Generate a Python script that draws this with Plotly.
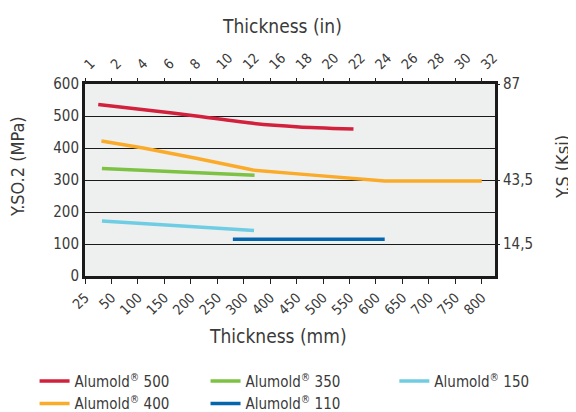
import plotly.graph_objects as go

# Tick labels (equally spaced category-like scale)
tick_mm = ['25', '50', '100', '150', '200', '250', '300', '400', '450', '500',
           '550', '600', '650', '700', '750', '800']
tick_in = ['1', '2', '4', '6', '8', '10', '12', '16', '18', '20', '22', '24',
           '26', '28', '30', '32']
ksi_vals = [14.5, 43.5, 87]
ksi_text = ['14,5', '43,5', '87']

# Series (x = position on the tick scale, y = MPa)
a500_x = [0.5, 2.4, 4.2, 6.35, 8.1, 10.15]
a500_y = [536, 518, 500, 477, 466, 459]
a400_x = [0.62, 2.2, 4.2, 6.35, 8.5, 11.33, 15.0]
a400_y = [422, 400, 368, 331, 316, 297, 297]
a350_x = [0.64, 6.41]
a350_y = [336, 315]
a150_x = [0.64, 6.39]
a150_y = [172, 142]
a110_x = [5.59, 11.33]
a110_y = [115, 115]

FONT = "Liberation Sans Narrow, DejaVu Sans Condensed, Arial Narrow, sans-serif"
TXT = "#3a3a3a"

def fnt(size):
    return dict(family=FONT, size=size, color=TXT)

fig = go.Figure()

series = [
    ("Alumold<sup>®</sup> 500", a500_x, a500_y, "#d2213c", "legend", "spline"),
    ("Alumold<sup>®</sup> 400", a400_x, a400_y, "#fbab2a", "legend", "linear"),
    ("Alumold<sup>®</sup> 350", a350_x, a350_y, "#7dc243", "legend2", "linear"),
    ("Alumold<sup>®</sup> 110", a110_x, a110_y, "#0466ad", "legend2", "linear"),
    ("Alumold<sup>®</sup> 150", a150_x, a150_y, "#6fcde3", "legend3", "linear"),
]
for name, xs, ys, col, leg, shp in series:
    fig.add_trace(go.Scatter(
        x=xs, y=ys, mode="lines", name=name, legend=leg,
        line=dict(color=col, width=3.5, shape=shp, smoothing=0.5),
        hoverinfo="skip"))

# helper trace so the secondary axes are drawn
fig.add_trace(go.Scatter(x=[0], y=[0], xaxis="x2", yaxis="y2", mode="lines",
                         line=dict(width=0), showlegend=False, hoverinfo="skip"))

# page body has an 8px default margin -> figure is 568x404 placed at (8,8)
fig.update_layout(
    width=568, height=404,
    margin=dict(l=77, r=81, t=76, b=136, autoexpand=False),
    paper_bgcolor="white", plot_bgcolor="#eef0f0",
    font=fnt(14),
    xaxis=dict(range=[0, 15.5], tickvals=list(range(len(tick_mm))), ticktext=tick_mm,
               tickangle=-45, ticks="outside", ticklen=5, tickcolor="#222",
               showline=True, linewidth=3, linecolor="#1a1a1a", mirror=True,
               showgrid=False, zeroline=False, tickfont=fnt(14)),
    xaxis2=dict(range=[0, 15.5], tickvals=list(range(len(tick_in))), ticktext=tick_in,
                overlaying="x", side="top", anchor="y", tickangle=-45,
                ticks="outside", ticklen=5, tickcolor="#222",
                showgrid=False, zeroline=False, showline=False, tickfont=fnt(14)),
    yaxis=dict(range=[0, 600], dtick=100, showgrid=True, gridcolor="#1a1a1a",
               gridwidth=1, showline=True, linewidth=3, linecolor="#1a1a1a",
               mirror=True, zeroline=False, ticks="", tickfont=fnt(15)),
    yaxis2=dict(range=[0, 87], tickvals=ksi_vals, ticktext=ksi_text,
                overlaying="y", side="right", anchor="x", showgrid=False,
                zeroline=False, ticks="outside", ticklen=4, tickcolor="#222",
                tickfont=fnt(15)),
    showlegend=True,
)

leg_common = dict(orientation="v", bgcolor="rgba(0,0,0,0)", font=fnt(15),
                  traceorder="normal", yanchor="top", xanchor="left", y=-0.462)
fig.update_layout(
    legend=dict(x=-0.123, **leg_common),
    legend2=dict(x=0.294, **leg_common),
    legend3=dict(x=0.7545, **leg_common),
)

ann = [
    dict(text="Thickness (in)", x=0.48, y=1.302, font=fnt(19)),
    dict(text="Thickness (mm)", x=0.47, y=-0.31, font=fnt(19)),
    dict(text="Y.SO.2 (MPa)", x=-0.163, y=0.568, textangle=-90, font=fnt(18)),
    dict(text="Y.S (Ksi)", x=1.166, y=0.568, textangle=-90, font=fnt(18)),
]
for a in ann:
    fig.add_annotation(xref="paper", yref="paper", showarrow=False,
                       xanchor="center", yanchor="middle", **a)

fig.write_html("out.html")
